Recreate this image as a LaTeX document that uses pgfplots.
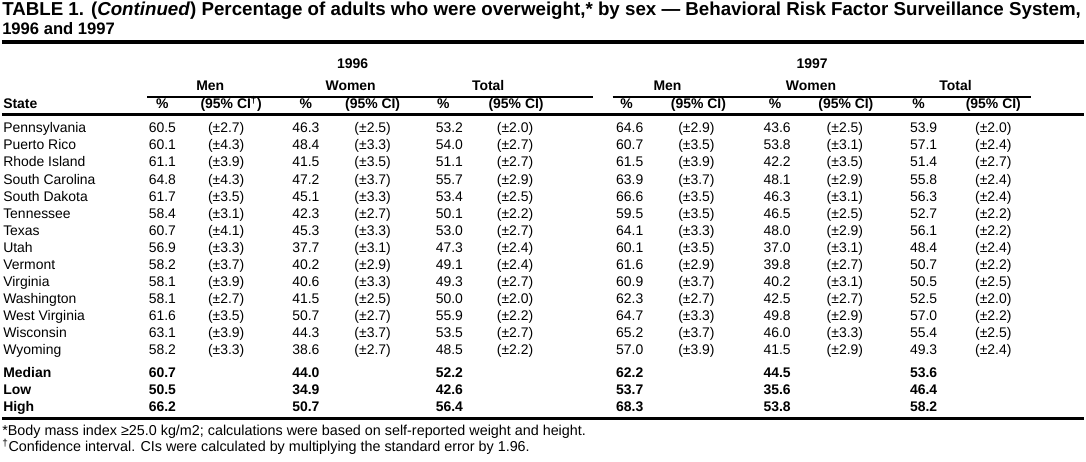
\documentclass[border=0pt]{standalone}
\usepackage{fontspec}
\setmainfont{Liberation Sans}
\usepackage{graphicx}
\usepackage{pgfplots}
\usepackage{pgfplotstable}
\pgfplotsset{compat=1.18}

% one row per state: 1996 then 1997, % and half width of the 95% CI
\pgfplotstableread[col sep=comma]{
state,m96,mci96,w96,wci96,t96,tci96,m97,mci97,w97,wci97,t97,tci97
Pennsylvania,60.5,2.7,46.3,2.5,53.2,2.0,64.6,2.9,43.6,2.5,53.9,2.0
Puerto Rico,60.1,4.3,48.4,3.3,54.0,2.7,60.7,3.5,53.8,3.1,57.1,2.4
Rhode Island,61.1,3.9,41.5,3.5,51.1,2.7,61.5,3.9,42.2,3.5,51.4,2.7
South Carolina,64.8,4.3,47.2,3.7,55.7,2.9,63.9,3.7,48.1,2.9,55.8,2.4
South Dakota,61.7,3.5,45.1,3.3,53.4,2.5,66.6,3.5,46.3,3.1,56.3,2.4
Tennessee,58.4,3.1,42.3,2.7,50.1,2.2,59.5,3.5,46.5,2.5,52.7,2.2
Texas,60.7,4.1,45.3,3.3,53.0,2.7,64.1,3.3,48.0,2.9,56.1,2.2
Utah,56.9,3.3,37.7,3.1,47.3,2.4,60.1,3.5,37.0,3.1,48.4,2.4
Vermont,58.2,3.7,40.2,2.9,49.1,2.4,61.6,2.9,39.8,2.7,50.7,2.2
Virginia,58.1,3.9,40.6,3.3,49.3,2.7,60.9,3.7,40.2,3.1,50.5,2.5
Washington,58.1,2.7,41.5,2.5,50.0,2.0,62.3,2.7,42.5,2.7,52.5,2.0
West Virginia,61.6,3.5,50.7,2.7,55.9,2.2,64.7,3.3,49.8,2.9,57.0,2.2
Wisconsin,63.1,3.9,44.3,3.7,53.5,2.7,65.2,3.7,46.0,3.3,55.4,2.5
Wyoming,58.2,3.3,38.6,2.7,48.5,2.2,57.0,3.9,41.5,2.9,49.3,2.4
}\states

\pgfplotstableread[col sep=comma]{
label,m96,w96,t96,m97,w97,t97
Median,60.7,44.0,52.2,62.2,44.5,53.6
Low,50.5,34.9,42.6,53.7,35.6,46.4
High,66.2,50.7,56.4,68.3,53.8,58.2
}\summary

\newcommand{\body}{\fontsize{10.5}{12}\selectfont}

\pgfplotsset{
  cell/.style={draw=none, mark=none, nodes near coords, point meta=explicit symbolic,
    every node near coord/.style={anchor=base, inner sep=0pt, font=\body}},
  ci/.style={cell, nodes near coords={(±\pgfplotspointmeta)}},
  bold/.style={cell, every node near coord/.style={anchor=base, inner sep=0pt, font=\body\bfseries}},
}

\begin{document}
\begin{tikzpicture}
\begin{axis}[
  width=814.5pt, height=347.25pt, scale only axis,
  xmin=0, xmax=1086, ymin=0, ymax=463, y dir=reverse,
  hide axis, clip=false,
]
\path (axis cs:0,0) rectangle (axis cs:1086,463);

% title
\node[anchor=base west, inner sep=0pt] at (axis cs:0,16)
  {\resizebox{812pt}{!}{\fontsize{13}{15}\selectfont\bfseries TABLE 1. (\textit{Continued}) Percentage of adults who were overweight,* by sex — Behavioral Risk Factor Surveillance System,}};
\node[anchor=base west, inner sep=0pt, font=\fontsize{12.5}{15}\selectfont\bfseries] at (axis cs:0,35) {1996 and 1997};

% rules
\draw[line width=3pt] (axis cs:0,42) -- (axis cs:1086,42);
\draw[line width=2pt] (axis cs:146,97.5) -- (axis cs:593,97.5);
\draw[line width=2pt] (axis cs:613,97.5) -- (axis cs:1033,97.5);
\draw[line width=2.6pt] (axis cs:0,115) -- (axis cs:1086,115);
\draw[line width=2.6pt] (axis cs:0,420) -- (axis cs:1086,420);

% column headings
\begin{scope}[every node/.style={anchor=base, inner sep=0pt, font=\body\bfseries}]
\node at (axis cs:352,68.3) {1996};
\node at (axis cs:813,68.3) {1997};
\node at (axis cs:209,90.7) {Men};
\node at (axis cs:350,90.7) {Women};
\node at (axis cs:488,90.7) {Total};
\node at (axis cs:668,90.7) {Men};
\node at (axis cs:812,90.7) {Women};
\node at (axis cs:957,90.7) {Total};
\node[anchor=base west] at (axis cs:1,109.3) {State};
\node at (axis cs:161,109.3) {\%};
\node at (axis cs:230,109.3) {(95\% CI\textsuperscript{†})};
\node at (axis cs:305,109.3) {\%};
\node at (axis cs:372,109.3) {(95\% CI)};
\node at (axis cs:443,109.3) {\%};
\node at (axis cs:516,109.3) {(95\% CI)};
\node at (axis cs:627,109.3) {\%};
\node at (axis cs:699,109.3) {(95\% CI)};
\node at (axis cs:776,109.3) {\%};
\node at (axis cs:847,109.3) {(95\% CI)};
\node at (axis cs:920,109.3) {\%};
\node at (axis cs:995,109.3) {(95\% CI)};
\end{scope}

% state rows
\addplot[cell, every node near coord/.style={anchor=base west, inner sep=0pt, font=\body}]
  table[x expr=1, y expr=133.3+17.15*\coordindex, meta=state] {\states};
\addplot[cell] table[x expr=161, y expr=133.3+17.15*\coordindex, meta=m96] {\states};
\addplot[ci]   table[x expr=225, y expr=133.3+17.15*\coordindex, meta=mci96] {\states};
\addplot[cell] table[x expr=305, y expr=133.3+17.15*\coordindex, meta=w96] {\states};
\addplot[ci]   table[x expr=372, y expr=133.3+17.15*\coordindex, meta=wci96] {\states};
\addplot[cell] table[x expr=449, y expr=133.3+17.15*\coordindex, meta=t96] {\states};
\addplot[ci]   table[x expr=515, y expr=133.3+17.15*\coordindex, meta=tci96] {\states};
\addplot[cell] table[x expr=630, y expr=133.3+17.15*\coordindex, meta=m97] {\states};
\addplot[ci]   table[x expr=697, y expr=133.3+17.15*\coordindex, meta=mci97] {\states};
\addplot[cell] table[x expr=778, y expr=133.3+17.15*\coordindex, meta=w97] {\states};
\addplot[ci]   table[x expr=846, y expr=133.3+17.15*\coordindex, meta=wci97] {\states};
\addplot[cell] table[x expr=925, y expr=133.3+17.15*\coordindex, meta=t97] {\states};
\addplot[ci]   table[x expr=995, y expr=133.3+17.15*\coordindex, meta=tci97] {\states};

% median / low / high
\addplot[bold, every node near coord/.style={anchor=base west, inner sep=0pt, font=\body\bfseries}]
  table[x expr=1, y expr=379+16.8*\coordindex, meta=label] {\summary};
\addplot[bold] table[x expr=161, y expr=379+16.8*\coordindex, meta=m96] {\summary};
\addplot[bold] table[x expr=305, y expr=379+16.8*\coordindex, meta=w96] {\summary};
\addplot[bold] table[x expr=449, y expr=379+16.8*\coordindex, meta=t96] {\summary};
\addplot[bold] table[x expr=630, y expr=379+16.8*\coordindex, meta=m97] {\summary};
\addplot[bold] table[x expr=778, y expr=379+16.8*\coordindex, meta=w97] {\summary};
\addplot[bold] table[x expr=925, y expr=379+16.8*\coordindex, meta=t97] {\summary};

% footnotes
\node[anchor=base west, inner sep=0pt, font=\fontsize{10.8}{12}\selectfont] at (axis cs:0,437)
  {*Body mass index ≥25.0 kg/m2; calculations were based on self-reported weight and height.};
\node[anchor=base west, inner sep=0pt, font=\fontsize{10.8}{12}\selectfont] at (axis cs:0,453)
  {\textsuperscript{†}Confidence interval. CIs were calculated by multiplying the standard error by 1.96.};
\end{axis}
\end{tikzpicture}
\end{document}
